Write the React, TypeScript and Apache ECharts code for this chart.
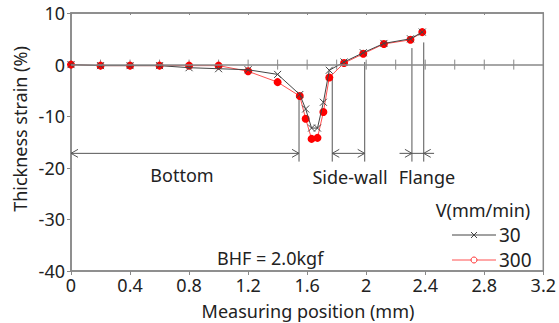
import React, { useEffect, useRef } from "react";
import * as echarts from "echarts";

const x30 = [0, 0.2, 0.4, 0.6, 0.8, 1.0, 1.2, 1.4, 1.55, 1.59, 1.63, 1.67, 1.71, 1.75, 1.85, 1.98, 2.12, 2.3, 2.38];
const y30 = [0, -0.2, -0.2, -0.2, -0.6, -0.8, -1.0, -1.9, -5.8, -8.6, -12.3, -12.3, -7.3, -1.1, 0.5, 2.3, 4.1, 5.0, 6.3];
const x300 = [0, 0.2, 0.4, 0.6, 0.8, 1.0, 1.2, 1.4, 1.55, 1.59, 1.63, 1.67, 1.71, 1.75, 1.85, 1.98, 2.12, 2.3, 2.38];
const y300 = [0, -0.2, -0.2, -0.2, -0.2, -0.2, -1.3, -3.4, -6.1, -10.5, -14.4, -14.2, -9.2, -2.5, 0.3, 2.1, 4.0, 4.8, 6.3];

const zeroTicks = [0.2, 0.4, 0.6, 0.8, 1.0, 1.2, 1.4, 1.6, 1.8, 2.0, 2.2, 2.4, 2.6, 2.8, 3.0];
const boundaryX = [1.545, 1.77, 1.99, 2.31, 2.39];
const boundaryTop = [-6.2, -2.5, 0.5, 3.2, 4.3];
const boundaryBottom = -18.8;
const arrowY = -17.2;
// [x1, x2, headAtStart, headAtEnd]
const arrowSpans = [
  [0, 1.545, 1, 1],
  [1.77, 1.99, 1, 1],
  [2.226, 2.31, 0, 1],
  [2.31, 2.39, 0, 0],
  [2.46, 2.39, 0, 1],
];

const FONT = "Noto Sans";
const TXT = "#222";
const AX = "#888";

export default function App() {
  const ref = useRef<HTMLDivElement>(null);
  useEffect(() => {
    const chart = echarts.init(ref.current!, null, { renderer: "svg" });
    const xMark = "path://M0,0L10,10M10,0L0,10";
    chart.setOption({
      animation: false,
      grid: { left: 71, right: 15, top: 13, bottom: 52, show: true, borderColor: AX, borderWidth: 1.5, backgroundColor: "transparent" },
      xAxis: [
        {
          type: "value", min: 0, max: 3.2, interval: 0.4, position: "bottom",
          axisLine: { onZero: false, lineStyle: { color: AX, width: 1.5 } },
          axisTick: { show: true, length: 4, lineStyle: { color: AX } },
          axisLabel: { fontSize: 18, color: TXT, fontFamily: FONT, margin: 5, lineHeight: 18 },
          splitLine: { show: false },
        },
        {
          type: "value", min: 0, max: 3.2, interval: 0.4, position: "top",
          axisLine: { onZero: false, lineStyle: { color: AX, width: 1.5 } },
          axisTick: { show: true, inside: true, length: 2, lineStyle: { color: AX } },
          axisLabel: { show: false },
          splitLine: { show: false },
        },
      ],
      yAxis: [
        {
          type: "value", min: -40, max: 10, interval: 10,
          axisLine: { show: true, onZero: false, lineStyle: { color: AX, width: 1.5 } },
          axisTick: { show: true, length: 4, lineStyle: { color: AX } },
          axisLabel: { fontSize: 18, color: TXT, fontFamily: FONT, margin: 6 },
          splitLine: { show: false },
        },
      ],
      series: [
        {
          type: "custom",
          data: zeroTicks.map((x) => [x, 0]),
          renderItem: (params: any, api: any) => {
            const p = api.coord([api.value(0), 0]);
            return { type: "line", shape: { x1: p[0], y1: p[1] - 5, x2: p[0], y2: p[1] + 5 }, style: { stroke: AX, lineWidth: 1 } };
          },
          markLine: {
            silent: true, symbol: "none", label: { show: false },
            lineStyle: { color: AX, width: 1.5, type: "solid" },
            data: [{ yAxis: 0 }],
          },
          z: 1,
        },
        {
          type: "custom",
          data: boundaryX.map((x, i) => [x, boundaryTop[i]]),
          renderItem: (params: any, api: any) => {
            const a = api.coord([api.value(0), api.value(1)]);
            const b = api.coord([api.value(0), boundaryBottom]);
            return { type: "line", shape: { x1: a[0], y1: a[1], x2: b[0], y2: b[1] }, style: { stroke: "#555", lineWidth: 1 } };
          },
          z: 2,
        },
        {
          type: "custom",
          data: arrowSpans,
          renderItem: (params: any, api: any) => {
            const a = api.coord([api.value(0), arrowY]);
            const b = api.coord([api.value(1), arrowY]);
            const dir = b[0] > a[0] ? 1 : -1;
            const children: any[] = [
              { type: "line", shape: { x1: a[0], y1: a[1], x2: b[0], y2: b[1] }, style: { stroke: "#555", lineWidth: 1 } },
            ];
            const L = 7, H = 4;
            if (api.value(2)) {
              children.push({ type: "polyline", shape: { points: [[a[0] + dir * L, a[1] - H], [a[0], a[1]], [a[0] + dir * L, a[1] + H]] }, style: { stroke: "#555", lineWidth: 1, fill: "none" } });
            }
            if (api.value(3)) {
              children.push({ type: "polyline", shape: { points: [[b[0] - dir * L, b[1] - H], [b[0], b[1]], [b[0] - dir * L, b[1] + H]] }, style: { stroke: "#555", lineWidth: 1, fill: "none" } });
            }
            return { type: "group", children };
          },
          z: 2,
        },
        {
          name: "30", type: "line",
          data: x30.map((x, i) => [x, y30[i]]),
          symbol: xMark, symbolSize: 7,
          lineStyle: { color: "#444", width: 1 },
          itemStyle: { color: "#444", borderColor: "#444", borderWidth: 1 },
          z: 4,
        },
        {
          name: "300", type: "line",
          data: x300.map((x, i) => [x, y300[i]]),
          symbol: "circle", symbolSize: 8,
          lineStyle: { color: "#ff5050", width: 1 },
          itemStyle: { color: "#ff0000" },
          z: 3,
        },
      ],
      graphic: [
        { type: "text", x: 308, y: 311, style: { text: "Measuring position (mm)", fontSize: 18, lineHeight: 18, fontFamily: FONT, fill: TXT, align: "center", verticalAlign: "middle" } },
        { type: "text", x: 20, y: 129, rotation: Math.PI / 2, style: { text: "Thickness strain (%)", fontSize: 18, fontFamily: FONT, fill: TXT, align: "center", verticalAlign: "middle" } },
        { type: "text", x: 182, y: 175, style: { text: "Bottom", fontSize: 18, fontFamily: FONT, fill: TXT, align: "center", verticalAlign: "middle" } },
        { type: "text", x: 350, y: 177, style: { text: "Side-wall", fontSize: 18, fontFamily: FONT, fill: TXT, align: "center", verticalAlign: "middle" } },
        { type: "text", x: 427, y: 177, style: { text: "Flange", fontSize: 18, fontFamily: FONT, fill: TXT, align: "center", verticalAlign: "middle" } },
        { type: "text", x: 483, y: 210, style: { text: "V(mm/min)", fontSize: 18, fontFamily: FONT, fill: TXT, align: "center", verticalAlign: "middle" } },
        { type: "text", x: 217, y: 258, style: { text: "BHF = 2.0kgf", fontSize: 18, fontFamily: FONT, fill: TXT, align: "left", verticalAlign: "middle" } },
        { type: "line", shape: { x1: 452, y1: 235, x2: 496, y2: 235 }, style: { stroke: "#444", lineWidth: 1 } },
        { type: "line", shape: { x1: 471, y1: 232, x2: 477, y2: 238 }, style: { stroke: "#444", lineWidth: 1 } },
        { type: "line", shape: { x1: 477, y1: 232, x2: 471, y2: 238 }, style: { stroke: "#444", lineWidth: 1 } },
        { type: "text", x: 499, y: 235, style: { text: "30", fontSize: 19, fontFamily: FONT, fill: TXT, align: "left", verticalAlign: "middle" } },
        { type: "line", shape: { x1: 452, y1: 260, x2: 496, y2: 260 }, style: { stroke: "#ff5050", lineWidth: 1 } },
        { type: "circle", shape: { cx: 474, cy: 260, r: 3 }, style: { stroke: "#ff3030", fill: "#fff", lineWidth: 1 } },
        { type: "text", x: 499, y: 260, style: { text: "300", fontSize: 19, fontFamily: FONT, fill: TXT, align: "left", verticalAlign: "middle" } },
      ],
    });
    return () => chart.dispose();
  }, []);
  return <div ref={ref} style={{ position: "fixed", left: 0, top: 0, width: 559, height: 323, background: "#fff" }} />;
}
